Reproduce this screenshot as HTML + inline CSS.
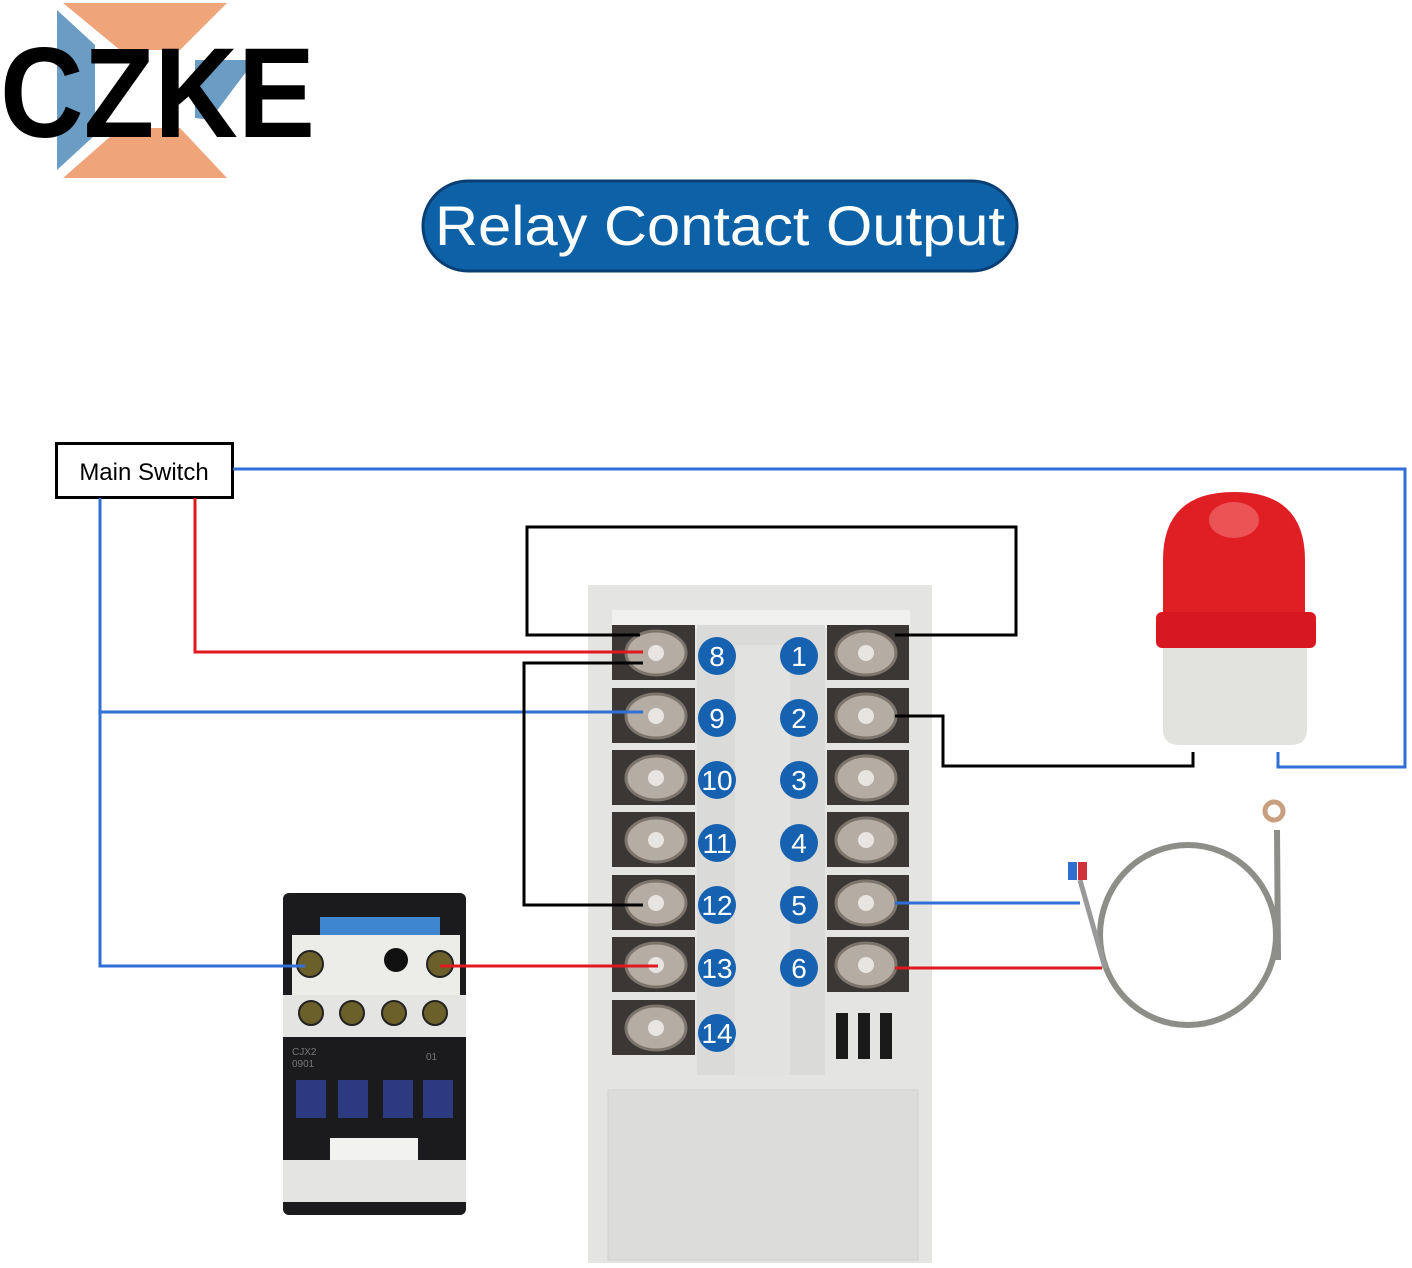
<!DOCTYPE html>
<html><head><meta charset="utf-8"><style>
html,body{margin:0;padding:0;background:#fff;}
svg{display:block;}
</style></head><body>
<svg width="1412" height="1268" viewBox="0 0 1412 1268" xmlns="http://www.w3.org/2000/svg" font-family="Liberation Sans, sans-serif">
<!-- Logo -->
<polygon points="63,3 227,3 180,50 120,50" fill="#f0a47a"/>
<polygon points="120,128 180,128 227,178 63,178" fill="#f0a47a"/>
<polygon points="57,10 95,45 95,135 57,170" fill="#6a9cc4"/>
<polygon points="195,60 255,60 210,120 195,118" fill="#6a9cc4"/>
<text x="0" y="137" font-size="128" font-weight="bold" textLength="315" lengthAdjust="spacingAndGlyphs" fill="#000">CZKE</text>
<!-- Title -->
<rect x="423" y="181" width="594" height="90" rx="45" fill="#0d62a7" stroke="#0a3f74" stroke-width="3"/>
<text x="720" y="245" font-size="56" fill="#fff" text-anchor="middle" textLength="570" lengthAdjust="spacingAndGlyphs">Relay Contact Output</text>
<!-- Main switch -->
<rect x="56.5" y="443.5" width="176" height="54" fill="#fff" stroke="#000" stroke-width="3"/>
<text x="144" y="480" font-size="24" text-anchor="middle" fill="#000">Main Switch</text>
<!-- Controller body -->
<rect x="588" y="585" width="344" height="678" fill="#e4e4e2"/>
<rect x="608" y="1090" width="310" height="170" fill="#dcdcda" stroke="#cfcfcd"/>
<rect x="612" y="610" width="298" height="18" fill="#f0f0ee"/>
<rect x="697" y="625" width="128" height="450" fill="#dadad8"/>
<rect x="735" y="645" width="55" height="430" fill="#e2e2e0"/>
<g id="rows">
</g>
<!-- terminals left -->
<g fill="#3a3735">
<rect x="612" y="625" width="83" height="55"/><rect x="612" y="688" width="83" height="55"/><rect x="612" y="750" width="83" height="55"/><rect x="612" y="812" width="83" height="55"/><rect x="612" y="875" width="83" height="55"/><rect x="612" y="937" width="83" height="55"/><rect x="612" y="1000" width="83" height="55"/>
<rect x="827" y="625" width="82" height="55"/><rect x="827" y="688" width="82" height="55"/><rect x="827" y="750" width="82" height="55"/><rect x="827" y="812" width="82" height="55"/><rect x="827" y="875" width="82" height="55"/><rect x="827" y="937" width="82" height="55"/>
</g>
<g fill="#b5aca4" stroke="#7d746c" stroke-width="3">
<ellipse cx="656" cy="653" rx="30" ry="22"/><ellipse cx="656" cy="716" rx="30" ry="22"/><ellipse cx="656" cy="778" rx="30" ry="22"/><ellipse cx="656" cy="840" rx="30" ry="22"/><ellipse cx="656" cy="903" rx="30" ry="22"/><ellipse cx="656" cy="965" rx="30" ry="22"/><ellipse cx="656" cy="1028" rx="30" ry="22"/>
<ellipse cx="866" cy="653" rx="30" ry="22"/><ellipse cx="866" cy="716" rx="30" ry="22"/><ellipse cx="866" cy="778" rx="30" ry="22"/><ellipse cx="866" cy="840" rx="30" ry="22"/><ellipse cx="866" cy="903" rx="30" ry="22"/><ellipse cx="866" cy="965" rx="30" ry="22"/>
</g>
<g fill="#e8e4e0"><circle cx="656" cy="653" r="8"/><circle cx="656" cy="716" r="8"/><circle cx="656" cy="778" r="8"/><circle cx="656" cy="840" r="8"/><circle cx="656" cy="903" r="8"/><circle cx="656" cy="965" r="8"/><circle cx="656" cy="1028" r="8"/><circle cx="866" cy="653" r="8"/><circle cx="866" cy="716" r="8"/><circle cx="866" cy="778" r="8"/><circle cx="866" cy="840" r="8"/><circle cx="866" cy="903" r="8"/><circle cx="866" cy="965" r="8"/></g>
<g fill="#1a1a1a"><rect x="836" y="1013" width="12" height="46"/><rect x="858" y="1013" width="12" height="46"/><rect x="880" y="1013" width="12" height="46"/></g>
<!-- number circles -->
<g fill="#1762b0"><circle cx="717" cy="656" r="19"/><circle cx="717" cy="718" r="19"/><circle cx="717" cy="780" r="19"/><circle cx="717" cy="843" r="19"/><circle cx="717" cy="905" r="19"/><circle cx="717" cy="968" r="19"/><circle cx="717" cy="1033" r="19"/>
<circle cx="799" cy="656" r="19"/><circle cx="799" cy="718" r="19"/><circle cx="799" cy="780" r="19"/><circle cx="799" cy="843" r="19"/><circle cx="799" cy="905" r="19"/><circle cx="799" cy="968" r="19"/></g>
<g fill="#fff" font-size="28" text-anchor="middle">
<text x="717" y="666">8</text><text x="717" y="728">9</text><text x="717" y="790">10</text><text x="717" y="853">11</text><text x="717" y="915">12</text><text x="717" y="978">13</text><text x="717" y="1043">14</text>
<text x="799" y="666">1</text><text x="799" y="728">2</text><text x="799" y="790">3</text><text x="799" y="853">4</text><text x="799" y="915">5</text><text x="799" y="978">6</text></g>
<!-- Contactor -->
<rect x="283" y="893" width="183" height="322" fill="#1b1b1d" rx="6"/>
<rect x="320" y="917" width="120" height="22" fill="#3f86d0"/>
<rect x="292" y="935" width="168" height="60" fill="#ecece9"/>
<rect x="283" y="995" width="183" height="42" fill="#e4e4e2"/>
<g fill="#6b5f2a" stroke="#222" stroke-width="2"><circle cx="310" cy="964" r="13"/><circle cx="440" cy="964" r="13"/><circle cx="311" cy="1013" r="12"/><circle cx="352" cy="1013" r="12"/><circle cx="394" cy="1013" r="12"/><circle cx="435" cy="1013" r="12"/>
<circle cx="311" cy="1175" r="12"/><circle cx="352" cy="1175" r="12"/><circle cx="394" cy="1175" r="12"/><circle cx="435" cy="1175" r="12"/></g>
<circle cx="396" cy="960" r="12" fill="#111"/>
<g fill="#2c3a80"><rect x="296" y="1080" width="30" height="38"/><rect x="338" y="1080" width="30" height="38"/><rect x="383" y="1080" width="30" height="38"/><rect x="423" y="1080" width="30" height="38"/></g>
<rect x="330" y="1138" width="88" height="28" fill="#f2f2f0"/>
<rect x="283" y="1160" width="183" height="42" fill="#e4e4e2"/>
<g fill="#777" font-size="10"><text x="292" y="1055">CJX2</text><text x="292" y="1067">0901</text><text x="426" y="1060">01</text></g>
<!-- Lamp -->
<path d="M1163,615 L1163,560 Q1163,492 1234,492 Q1305,492 1305,560 L1305,615 Z" fill="#e01f25"/>
<ellipse cx="1234" cy="520" rx="25" ry="18" fill="#f06a6a" opacity="0.7"/>
<rect x="1156" y="612" width="160" height="36" rx="6" fill="#d81820"/>
<path d="M1163,648 L1307,648 L1307,730 Q1307,745 1290,745 L1180,745 Q1163,745 1163,730 Z" fill="#e2e2df"/>
<!-- Sensor -->
<ellipse cx="1188" cy="935" rx="88" ry="90" fill="none" stroke="#8e8e88" stroke-width="6"/>
<path d="M1080,880 L1105,968" stroke="#999" stroke-width="5" fill="none"/>
<path d="M1277,830 L1278,960" stroke="#8e8e88" stroke-width="6"/>
<circle cx="1274" cy="811" r="9" fill="none" stroke="#c8a080" stroke-width="5"/>
<rect x="1068" y="862" width="9" height="18" fill="#2f6ed0"/><rect x="1078" y="862" width="9" height="18" fill="#d0323a"/>
<!-- Wires -->
<g fill="none" stroke-width="3">
<polyline points="233,469 1405,469 1405,767 1278,767 1278,752" stroke="#2f6fd6"/>
<polyline points="100,498 100,966 305,966" stroke="#2f6fd6"/>
<polyline points="100,712 643,712" stroke="#2f6fd6"/>
<polyline points="195,498 195,652 643,652" stroke="#e0181f"/>
<polyline points="640,635 527,635 527,527 1016,527 1016,635 895,635" stroke="#000"/>
<polyline points="643,663 524,663 524,905 643,905" stroke="#000"/>
<polyline points="895,716 943,716 943,766 1193,766 1193,752" stroke="#000"/>
<polyline points="440,966 658,966" stroke="#e0181f"/>
<polyline points="895,903 1080,903" stroke="#2f6fd6"/>
<polyline points="895,968 1102,968" stroke="#e0181f"/>
</g>
</svg>
</body></html>
